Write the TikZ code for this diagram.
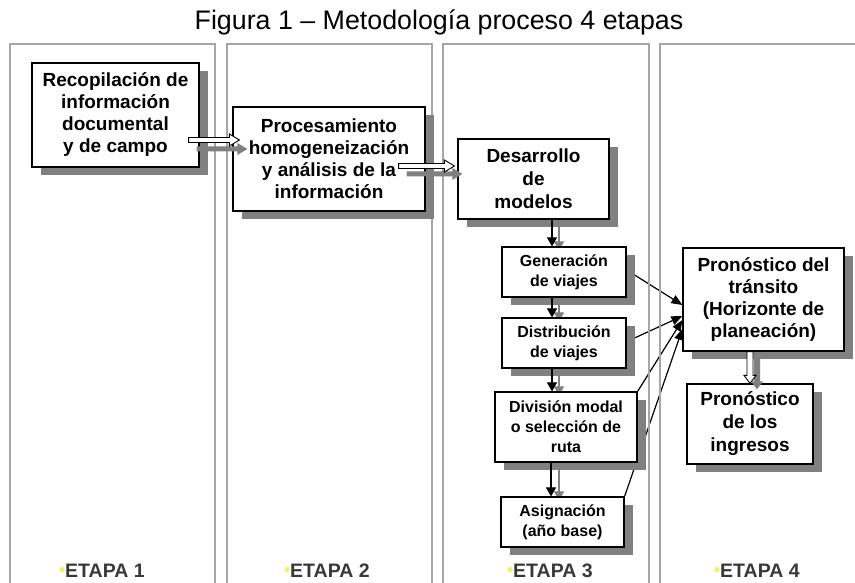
\documentclass[tikz,border=0pt]{standalone}
\usepackage{fontspec}
\setmainfont{Liberation Sans}
\usetikzlibrary{arrows.meta,calc,shadows}
\pgfdeclarelayer{bg}
\pgfsetlayers{bg,main}
\definecolor{shadowgray}{HTML}{808080}
\definecolor{panelgray}{HTML}{A6A6A6}
\definecolor{etapagray}{HTML}{383838}
\definecolor{bulletyellow}{HTML}{F2F25A}
\newcommand\hollowH[3]{\path[#1] let \p1=(#2), \p2=(#3) in
  (\x1,{\y1+2.5pt}) -- ({\x2-10pt},{\y1+2.5pt}) -- ({\x2-10pt},{\y1+6pt}) -- (\x2,\y1)
  -- ({\x2-10pt},{\y1-6pt}) -- ({\x2-10pt},{\y1-2.5pt}) -- (\x1,{\y1-2.5pt}) -- cycle;}
\newcommand\hollowV[3]{\path[#1] let \p1=(#2), \p2=(#3) in
  ({\x1-3pt},\y1) -- ({\x1-3pt},{\y2+8pt}) -- ({\x1-6pt},{\y2+8pt}) -- (\x1,\y2)
  -- ({\x1+6pt},{\y2+8pt}) -- ({\x1+3pt},{\y2+8pt}) -- ({\x1+3pt},\y1) -- cycle;}
\begin{document}
\begin{tikzpicture}[x=1pt,y=-1pt,
  panel/.style={draw=panelgray, line width=1.5pt},
  box/.style={draw, line width=1.2pt, fill=white, align=center, inner sep=0pt,
    font=\bfseries\fontsize{19}{22}\selectfont,
    drop shadow={shadow xshift=9pt, shadow yshift=-8pt, fill=shadowgray, opacity=1}},
  sbox/.style={box, font=\bfseries\fontsize{16}{20}\selectfont},
  etapa/.style={anchor=west, inner sep=0pt, text=etapagray, font=\bfseries\fontsize{19.5}{19.5}\selectfont},
  hollow/.style={draw=black, line width=0.9pt, fill=white},
  hshadow/.style={fill=shadowgray},
  blk/.style={draw=black, line width=1.1pt, -{Triangle[length=9pt,width=10pt]}},
  gry/.style={draw=shadowgray, line width=1.1pt, -{Triangle[length=9pt,width=10pt]}},
  thin/.style={draw=black, line width=1.2pt, -{Triangle[length=11pt,width=9pt]}}
]
\useasboundingbox (0,0) rectangle (855,583);
\begin{pgfonlayer}{bg}
\fill[white] (0,0) rectangle (855,583);
\end{pgfonlayer}

% title
\node[font=\fontsize{26.8}{27}\selectfont] (title) at (439,22) {Figura 1 – Metodología proceso 4 etapas};

% panels
\draw[panel] (10,44) rectangle (215,595);
\draw[panel] (227,44) rectangle (432,595);
\draw[panel] (443,44) rectangle (649,595);
\draw[panel] (660,44) rectangle (875,595);

% boxes
\node[box, minimum width=167, minimum height=104] (b1) at (115.5,115)
  {Recopilación de\\información\\documental\\y de campo};
\node[box, minimum width=192, minimum height=104] (b2) at (329,159)
  {Procesamiento\\homogeneización\\y análisis de la\\información};
\node[box, minimum width=151, minimum height=80, font=\bfseries\fontsize{19}{23}\selectfont] (des) at (533.5,179)
  {Desarrollo\\de\\modelos};
\node[sbox, minimum width=124, minimum height=50] (gen) at (564,272) {Generación\\de viajes};
\node[sbox, minimum width=124, minimum height=50] (dis) at (564,343) {Distribución\\de viajes};
\node[sbox, minimum width=142, minimum height=70] (div) at (566,427) {División modal\\o selección de\\ruta};
\node[sbox, minimum width=123, minimum height=50] (asg) at (562.5,522) {Asignación\\(año base)};
\node[box, minimum width=161, minimum height=103] (tr) at (763.5,299.5)
  {Pronóstico del\\tránsito\\(Horizonte de\\planeación)};
\node[box, minimum width=126, minimum height=80, font=\bfseries\fontsize{19}{23}\selectfont] (ing) at (750,424)
  {Pronóstico\\de los\\ingresos};

% vertical arrows in stage 3
\coordinate (va) at (552,0);
\coordinate (vb) at (551,0);
\coordinate (ga) at (559,0);
\draw[blk] (va |- des.south) -- (va |- gen.north);
\draw[blk] (va |- gen.south) -- (va |- dis.north);
\draw[blk] (va |- dis.south) -- (va |- div.north);
\draw[blk] (vb |- div.south) -- (vb |- asg.north);
\begin{pgfonlayer}{bg}
\draw[gry] (ga |- des.south) -- ($(ga |- gen.north)+(0,4)$);
\draw[gry] (ga |- gen.south) -- ($(ga |- dis.north)+(0,4)$);
\draw[gry] (ga |- dis.south) -- ($(ga |- div.north)+(0,4)$);
\draw[gry] (ga |- div.south) -- ($(ga |- asg.north)+(0,4)$);
% lines to forecast
\draw[thin] (gen.east) ++(8,3) -- ($(tr.west)+(0,5.5)$);
\draw[thin] (dis.east) ++(8,-5) -- ($(tr.west)+(0,16.5)$);
\draw[thin] (div.north east) -- ($(tr.west)+(0,20.5)$);
\draw[thin] (asg.north east) -- ($(tr.west)+(0,29.5)$);
\end{pgfonlayer}

% hollow arrows with grey shadows
\hollowH{hshadow}{$(b1.east)+(-3,34)$}{$(b2.west)+(15,0)$}
\hollowH{hollow}{$(b1.east)+(-11,25)$}{$(b2.west)+(7,0)$}
\hollowH{hshadow}{$(b2.east)+(-19,15)$}{$(des.west)+(5,0)$}
\hollowH{hollow}{$(b2.east)+(-27,7)$}{$(des.west)+(-3,0)$}
\hollowV{hshadow}{$(tr.south)+(-6.5,1)$}{$(ing.north)+(0,6)$}
\hollowV{hollow}{$(tr.south)+(-13.5,0)$}{$(ing.north)+(0,0)$}

% stage labels
\node[etapa] (e1) at (65,571) {ETAPA 1};
\node[etapa] (e2) at (290,571) {ETAPA 2};
\node[etapa] (e3) at (513,571) {ETAPA 3};
\node[etapa] (e4) at (720,571) {ETAPA 4};
\foreach \e in {e1,e2,e3,e4}
  \fill[bulletyellow] ($(\e.west)+(-3,-1.5)$) circle (2.6);
\end{tikzpicture}
\end{document}
